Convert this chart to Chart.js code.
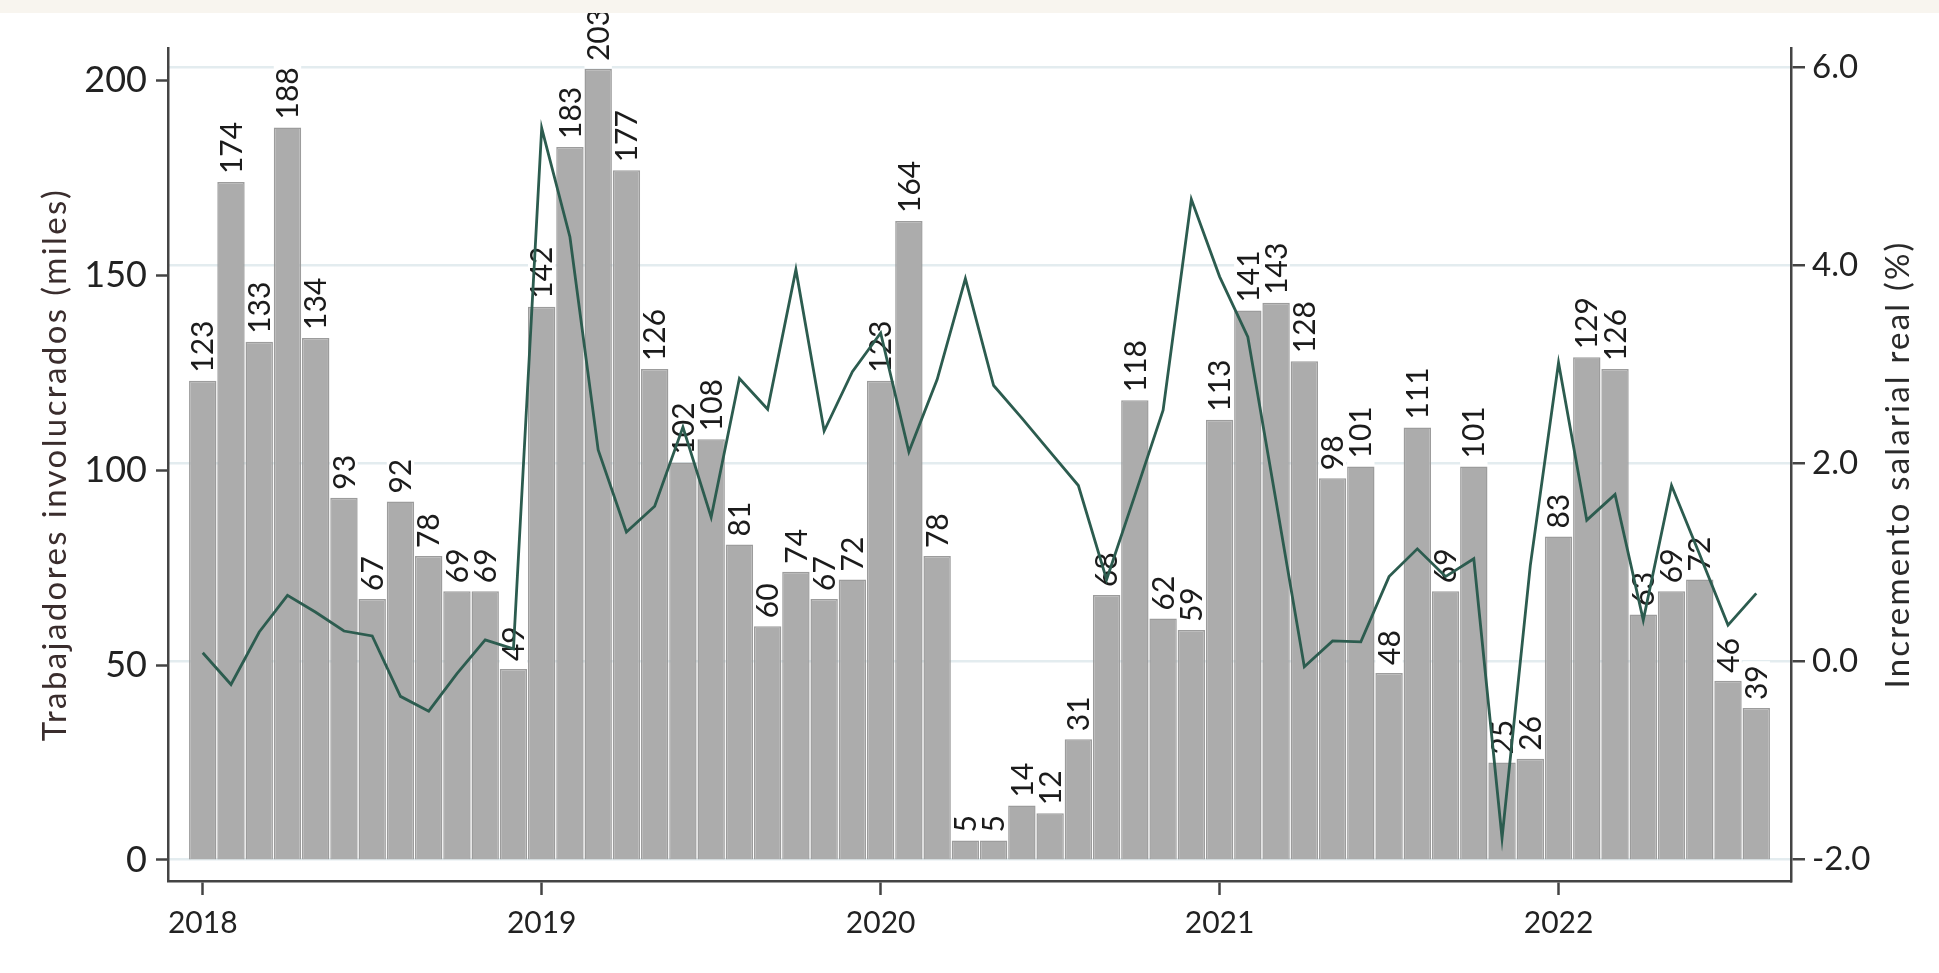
<!DOCTYPE html>
<html><head><meta charset="utf-8">
<script src="https://cdn.jsdelivr.net/npm/chart.js@4"></script>
<style>
html,body{margin:0;padding:0;background:#f8f5ef;width:1939px;height:973px;overflow:hidden;}
#wrap{position:absolute;left:0;top:13px;width:1939px;height:960px;background:#fff;}
canvas{display:block;}
</style></head><body>
<div id="wrap"><canvas id="c" width="1939" height="960"></canvas></div>
<script>
const months = [
 '2018-01','2018-02','2018-03','2018-04','2018-05','2018-06','2018-07','2018-08','2018-09','2018-10','2018-11','2018-12',
 '2019-01','2019-02','2019-03','2019-04','2019-05','2019-06','2019-07','2019-08','2019-09','2019-10','2019-11','2019-12',
 '2020-01','2020-02','2020-03','2020-04','2020-05','2020-06','2020-07','2020-08','2020-09','2020-10','2020-11','2020-12',
 '2021-01','2021-02','2021-03','2021-04','2021-05','2021-06','2021-07','2021-08','2021-09','2021-10','2021-11','2021-12',
 '2022-01','2022-02','2022-03','2022-04','2022-05','2022-06','2022-07','2022-08'];
const workers = [123,174,133,188,134,93,67,92,78,69,69,49,
 142,183,203,177,126,102,108,81,60,74,67,72,
 123,164,78,5,5,14,12,31,68,118,62,59,
 113,141,143,128,98,101,48,111,69,101,25,26,
 83,129,126,63,69,72,46,39];
const wageGrowth = [0.09,-0.23,0.30,0.67,0.50,0.31,0.26,-0.35,-0.50,-0.12,0.22,0.13,
 5.39,4.29,2.14,1.31,1.57,2.37,1.46,2.86,2.55,3.96,2.33,2.93,
 3.32,2.12,2.85,3.87,2.79,2.46,2.12,1.78,0.83,1.68,2.54,4.67,
 3.89,3.28,1.62,-0.05,0.21,0.20,0.86,1.14,0.86,1.04,-1.78,0.97,
 3.02,1.43,1.69,0.42,1.78,1.08,0.37,0.69];
const yearLabels = ['2018','2019','2020','2021','2022'];
const yearTickIndex = [0,12,24,36,48];
const leftTicks = [0,50,100,150,200];
const rightTicks = [-2,0,2,4,6];
const leftTitle = 'Trabajadores involucrados (miles)';
const rightTitle = 'Incremento salarial real (%)';

const barLabels = {
  id:'barLabels',
  afterDatasetDraw(chart,args){
    if(args.index!==0) return;
    const ctx=chart.ctx;
    ctx.save();
    ctx.font='30px Lato';
    args.meta.data.forEach((bar,i)=>{
      const txt=String(workers[i]);
      const w=ctx.measureText(txt).width;
      const p=bar.getProps(['x','y','width'],true);
      const gap=8;
      ctx.fillStyle='#ffffff';
      ctx.fillRect(p.x-p.width/2, p.y-gap-w-4, p.width, gap+w+3);
      ctx.save();
      ctx.translate(p.x, p.y-gap);
      ctx.rotate(-Math.PI/2);
      ctx.fillStyle='#1b1b1b';
      ctx.textAlign='left';
      ctx.textBaseline='middle';
      ctx.fillText(txt,0,1);
      ctx.restore();
    });
    ctx.restore();
  }
};
const axisTitles = {
  id:'axisTitles',
  afterDraw(chart){
    const ctx=chart.ctx, a=chart.chartArea;
    const cy=(a.top+a.bottom)/2;
    ctx.save();
    ctx.font='33px Lato';
    ctx.letterSpacing='2.4px';
    ctx.textAlign='center'; ctx.textBaseline='middle';
    ctx.fillStyle='#3a2d2d';
    ctx.translate(55,cy); ctx.rotate(-Math.PI/2);
    ctx.fillText(leftTitle,0,0);
    ctx.restore();
    ctx.save();
    ctx.font='33px Lato';
    ctx.letterSpacing='2.2px';
    ctx.textAlign='center'; ctx.textBaseline='middle';
    ctx.fillStyle='#2a2a2a';
    ctx.translate(1898,cy); ctx.rotate(-Math.PI/2);
    ctx.fillText(rightTitle,0,0);
    ctx.restore();
  }
};

const axisCol='#444444';
new Chart(document.getElementById('c').getContext('2d'),{
  type:'bar',
  data:{datasets:[
    {type:'bar',label:'Trabajadores',data:workers.map((v,i)=>({x:i,y:v})),yAxisID:'y',xAxisID:'x',
     backgroundColor:'#acacac',borderColor:'#9c9c9c',borderWidth:1.5,borderSkipped:'start',
     barPercentage:0.97,categoryPercentage:1,order:2},
    {type:'line',label:'Incremento',data:wageGrowth.map((v,i)=>({x:i,y:v})),yAxisID:'y1',xAxisID:'x',
     borderColor:'#2c5c4f',borderWidth:2.8,pointRadius:0,tension:0,fill:false,order:1}
  ]},
  options:{
    responsive:false,animation:false,devicePixelRatio:1,
    layout:{padding:{top:35,left:0,right:0,bottom:0}},
    plugins:{legend:{display:false},tooltip:{enabled:false}},
    scales:{
      x:{type:'linear',min:-1.23,max:56.23,offset:false,
         afterBuildTicks(s){s.ticks=yearTickIndex.map(v=>({value:v}));},
         afterFit(s){s.height=92;},
         ticks:{callback:(v)=>yearLabels[yearTickIndex.indexOf(v)],font:{family:'Lato',size:30},color:'#222',padding:10,maxRotation:0,autoSkip:false},
         grid:{offset:false,drawOnChartArea:false,tickLength:14,tickColor:axisCol,tickWidth:2.5},
         border:{display:true,color:axisCol,width:2.5}},
      y:{position:'left',min:-5.39,max:208.4,
         afterBuildTicks(s){s.ticks=leftTicks.map(v=>({value:v}));},
         afterFit(s){s.width=168;},
         ticks:{font:{family:'Lato',size:36},color:'#222',padding:9},
         grid:{drawOnChartArea:false,tickLength:12,tickColor:axisCol,tickWidth:2.5},
         border:{display:true,color:axisCol,width:2.5}},
      y1:{position:'right',min:-2.215,max:6.199,
         afterBuildTicks(s){s.ticks=rightTicks.map(v=>({value:v}));},
         afterFit(s){s.width=148;},
         ticks:{callback:(v)=>Number(v).toFixed(1),font:{family:'Lato',size:33},color:'#222',padding:7},
         grid:{color:'#e3ecef',lineWidth:2.5,tickLength:14,tickColor:axisCol,tickWidth:2.5},
         border:{display:true,color:axisCol,width:2.5}}
    }
  },
  plugins:[barLabels,axisTitles]
});
</script>
</body></html>
